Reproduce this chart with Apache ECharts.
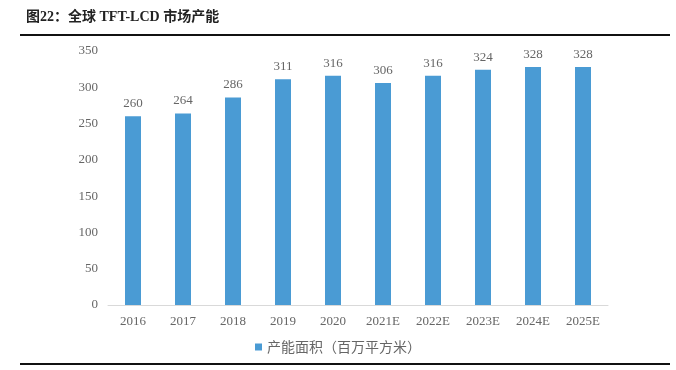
<!DOCTYPE html>
<html><head><meta charset="utf-8">
<script src="https://cdn.jsdelivr.net/npm/echarts@6/dist/echarts.min.js"></script>
<style>html,body{margin:0;padding:0;background:#fff}#c{width:676px;height:370px}</style>
</head><body><div id="c"></div>
<script>
const categories = ['2016','2017','2018','2019','2020','2021E','2022E','2023E','2024E','2025E'];
const capacity = [260,264,286,311,316,306,316,324,328,328];
const seriesName = '产能面积（百万平方米）';
const titleText = '图22：全球 TFT-LCD 市场产能';
const chart = echarts.init(document.getElementById('c'));
const serif = '"Liberation Serif","Noto Sans CJK SC",serif';
chart.setOption({
  animation:false,
  backgroundColor:'#fff',
  graphic:[
    {type:'text',left:26,top:10,style:{text:titleText,font:'bold 14px "Liberation Serif","Noto Sans CJK SC",serif',fill:'#222'}},
    {type:'rect',shape:{x:20,y:34,width:650,height:2},style:{fill:'#111'}},
    {type:'rect',shape:{x:20,y:363,width:650,height:2},style:{fill:'#111'}}
  ],
  grid:{left:108,right:68,top:51,bottom:65,containLabel:false},
  legend:{bottom:11,left:'center',itemWidth:7,itemHeight:7,icon:'rect',itemGap:3,
    textStyle:{color:'#666',fontSize:14,fontFamily:'"Noto Sans CJK SC",sans-serif'}},
  xAxis:{type:'category',data:categories,
    axisLine:{lineStyle:{color:'#d9d9d9'}},axisTick:{show:false},
    axisLabel:{color:'#666',fontSize:13,fontFamily:serif,margin:10}},
  yAxis:{type:'value',min:0,max:350,interval:50,
    splitLine:{show:false},axisLine:{show:false},axisTick:{show:false},
    axisLabel:{color:'#666',fontSize:13,fontFamily:serif,margin:10}},
  series:[{name:seriesName,type:'bar',data:capacity,barWidth:16,
    itemStyle:{color:'#4a9bd4'},
    label:{show:true,position:'top',distance:6,color:'#666',fontSize:13,fontFamily:serif}}]
});
</script></body></html>
